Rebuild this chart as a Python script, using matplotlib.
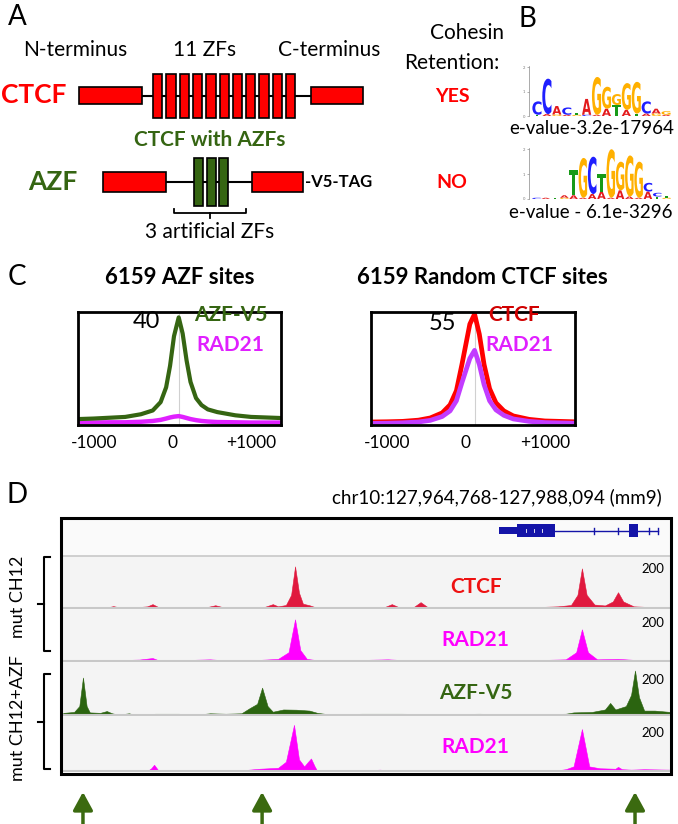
import matplotlib
matplotlib.use('Agg')
import matplotlib.pyplot as plt
from matplotlib.patches import Rectangle, PathPatch
from matplotlib.textpath import TextPath
from matplotlib.font_manager import FontProperties
from matplotlib.transforms import Affine2D

plt.rcParams['font.family'] = ['Lato', 'DejaVu Sans']

W, H = 678, 824
RED = '#ff0000'
GREEN = '#356512'
MAGENTA = '#ff00ff'
PURPLE = '#c23cff'
CRIMSON = '#e0193e'

# ---------------- data ----------------
# panel A: protein schematics (layout units = pixels of the panel)
ctcf_blocks = [(79, 142), (311, 363)]
ctcf_n_zf = 11
azf_blocks = [(103, 166), (252, 303)]
azf_n_zf = 3

# panel B: motif logos, one list of (letter, bits) per position, bottom to top
logo1 = [[('T', 0.05), ('C', 0.55)], [('A', 0.08), ('C', 1.45)], [('G', 0.06), ('A', 0.35)],
         [('A', 0.05), ('C', 0.3)], [('G', 0.05), ('T', 0.08)], [('C', 0.05), ('A', 0.65)],
         [('A', 0.05), ('G', 1.55)], [('A', 0.3), ('G', 0.9)], [('T', 0.45), ('G', 0.45)],
         [('A', 0.25), ('G', 1.1)], [('T', 0.1), ('G', 1.3)], [('A', 0.1), ('C', 0.5)],
         [('G', 0.1), ('A', 0.2)], [('A', 0.05), ('G', 0.15)]]
logo2 = [[('C', 0.05)], [('A', 0.05)], [('T', 0.06)], [('G', 0.05), ('A', 0.1)],
         [('A', 0.15), ('T', 1.0)], [('A', 0.05), ('G', 1.6)], [('A', 0.2), ('C', 1.5)],
         [('A', 0.3), ('T', 0.7)], [('A', 0.05), ('G', 1.95)], [('A', 0.35), ('G', 1.15)],
         [('A', 0.1), ('G', 1.65)], [('A', 0.05), ('G', 1.45)], [('A', 0.3), ('C', 0.35)],
         [('T', 0.1), ('C', 0.15)], [('G', 0.05), ('T', 0.08)]]
logo_colors = {'A': '#e31a1c', 'C': '#1f1fff', 'G': '#ffb000', 'T': '#189a18'}

# panel C: aggregate profiles (bp from site, signal)
azf_pos = [-1200, -1000, -800, -600, -400, -250, -150, -80, -30, 20, 80, 130, 180, 230, 300, 370, 450, 570, 800, 1000, 1370]
azf_v5 = [2.2, 2.4, 2.7, 3.0, 4.0, 5.4, 8.5, 14, 22, 33, 40, 34, 24, 16, 10, 7.4, 5.8, 4.8, 3.6, 3.0, 2.6]
azf_rad21 = [0.9, 0.9, 1.0, 1.0, 1.2, 1.5, 1.9, 2.4, 2.8, 3.1, 3.3, 3.0, 2.6, 2.2, 1.8, 1.5, 1.3, 1.1, 1.0, 0.9, 0.9]
ctcf_pos = [-1200, -1000, -800, -600, -450, -300, -200, -120, -50, 0, 50, 110, 170, 230, 300, 380, 480, 600, 800, 1000, 1370]
ctcf_rand = [1.5, 1.6, 1.8, 2.4, 3.5, 6, 10, 17, 30, 40, 50, 55, 45, 30, 18, 11, 7, 4.5, 2.8, 2.0, 1.6]
ctcf_rad21 = [0.8, 0.9, 1.1, 1.5, 2.3, 4.2, 7, 12, 21, 27, 33, 37, 30, 20, 12, 7.5, 4.8, 3.0, 1.8, 1.2, 0.9]

# panel D: browser tracks, kb from chr10:127,964,768
region_kb = 23.326
trk_ctcf = [(0, 0), (0.3, 4), (1.2, 5), (1.8, 4), (2.0, 9), (2.2, 4), (3.0, 5), (3.3, 8), (3.5, 18),
            (3.7, 6), (4.5, 4), (5.6, 5), (5.9, 13), (6.2, 4), (7.0, 4), (7.8, 6), (8.1, 18), (8.3, 8),
            (8.6, 14), (8.8, 60), (8.95, 189), (9.1, 70), (9.25, 20), (9.5, 13), (9.7, 5), (10.5, 4),
            (11.5, 4), (12.4, 6), (12.65, 18), (12.9, 5), (13.5, 6), (13.75, 27), (14.0, 6), (15.0, 4),
            (16.5, 4), (18.0, 4), (19.0, 8), (19.5, 14), (19.75, 60), (19.92, 180), (20.1, 60),
            (20.4, 16), (20.8, 12), (21.1, 30), (21.3, 72), (21.5, 30), (21.9, 8), (22.5, 5), (23.3, 3)]
trk_rad21_mut = [(0, 0), (0.3, 4), (1.0, 6), (1.5, 4), (2.4, 5), (3.0, 7), (3.5, 14), (3.7, 5), (4.5, 4),
                 (5.7, 8), (6.2, 4), (7.5, 5), (8.3, 10), (8.7, 40), (8.95, 189), (9.15, 50), (9.4, 10),
                 (9.8, 4), (11.0, 4), (12.5, 8), (13.0, 5), (14.5, 4), (16.0, 4), (18.0, 4), (19.3, 8),
                 (19.7, 40), (19.92, 144), (20.15, 40), (20.5, 8), (21.3, 10), (22.0, 5), (23.3, 4)]
trk_azf = [(0, 0), (0.1, 10), (0.5, 14), (0.7, 40), (0.84, 167), (0.98, 40), (1.1, 12), (1.5, 10),
           (1.75, 18), (1.95, 8), (2.2, 2), (2.6, 8), (2.8, 2), (3.6, 6), (4.5, 6), (5.2, 2), (5.7, 8),
           (6.3, 6), (6.9, 8), (7.2, 30), (7.5, 50), (7.69, 122), (7.9, 40), (8.1, 15), (8.5, 25),
           (9.0, 24), (9.5, 20), (9.8, 10), (10.2, 4), (11.5, 6), (13.0, 6), (14.5, 5), (16.0, 6),
           (17.5, 4), (19.3, 6), (19.6, 12), (20.3, 14), (20.8, 25), (21.0, 54), (21.2, 25), (21.6, 40),
           (21.8, 90), (21.95, 198), (22.1, 80), (22.3, 20), (22.7, 20), (23.3, 14)]
trk_rad21_azf = [(0, 0), (0.8, 0), (0.9, 4), (1.0, 0), (2.6, 0), (2.7, 4), (2.8, 0), (3.3, 0), (3.45, 12),
                 (3.56, 27), (3.7, 6), (3.8, 0), (5.8, 0), (5.9, 3), (6.0, 0), (6.9, 0), (7.1, 5), (7.6, 10),
                 (8.3, 14), (8.6, 40), (8.91, 198), (9.1, 50), (9.3, 20), (9.45, 40), (9.56, 54), (9.7, 20),
                 (9.8, 0), (10.7, 0), (10.8, 4), (11.0, 0), (11.6, 3), (12.2, 6), (12.5, 3), (13.5, 0),
                 (13.6, 4), (13.8, 0), (14.8, 0), (14.9, 4), (15.1, 0), (18.8, 0), (19.3, 8), (19.6, 20),
                 (19.92, 180), (20.2, 20), (20.6, 12), (21.2, 10), (21.3, 18), (21.45, 8), (21.8, 6),
                 (22.3, 8), (23.3, 6)]
track_names = ['CTCF', 'RAD21', 'AZF-V5', 'RAD21']
track_colors = [CRIMSON, MAGENTA, '#2b6410', MAGENTA]
label_colors = ['#ee1111', MAGENTA, GREEN, MAGENTA]
tracks = [trk_ctcf, trk_rad21_mut, trk_azf, trk_rad21_azf]
arrow_sites = [0.84, 7.69, 21.95]

# gene model (kb)
gene_utr = (16.75, 17.44)
gene_cds = [(17.44, 18.89), (21.72, 22.06)]
gene_introns = [(18.89, 21.72), (22.06, 22.83)]
gene_ticks = [20.38, 21.30, 22.49, 22.83]

# ---------------- figure ----------------
fig = plt.figure(figsize=(W / 100, H / 100), dpi=100)


def px_axes(x0, y0, x1, y1):
    return fig.add_axes([x0 / W, 1 - y1 / H, (x1 - x0) / W, (y1 - y0) / H])


ov = fig.add_axes([0, 0, 1, 1])
ov.set_xlim(0, W)
ov.set_ylim(H, 0)
ov.axis('off')
ov.set_zorder(10)

# panel letters
for lab, x, y in [('A', 17, 17), ('B', 527, 19), ('C', 17, 277), ('D', 17, 495)]:
    ov.text(x, y, lab, fontsize=20, ha='center', va='center')

# ---- panel A ----
ov.text(75, 50, 'N-terminus', fontsize=15, ha='center', va='center')
ov.text(205, 50, '11 ZFs', fontsize=15, ha='center', va='center')
ov.text(329, 50, 'C-terminus', fontsize=15, ha='center', va='center')
ov.text(467, 33, 'Cohesin', fontsize=15, ha='center', va='center')
ov.text(452, 63, 'Retention:', fontsize=15, ha='center', va='center')
ov.text(34, 95, 'CTCF', fontsize=19, color=RED, weight='bold', ha='center', va='center')
ov.text(53, 182, 'AZF', fontsize=19, color=GREEN, weight='bold', ha='center', va='center')
ov.text(210, 140, 'CTCF with AZFs', fontsize=15, color=GREEN, weight='bold', ha='center', va='center')
ov.text(452, 96, 'YES', fontsize=14, color=RED, weight='bold', ha='center', va='center')
ov.text(452, 182, 'NO', fontsize=14, color=RED, weight='bold', ha='center', va='center')
ov.text(305, 182, '-V5-TAG', fontsize=12, weight='bold', ha='left', va='center')
ov.text(210, 232, '3 artificial ZFs', fontsize=15, ha='center', va='center')

# CTCF construct
ov.plot([ctcf_blocks[0][1], ctcf_blocks[1][0]], [96, 96], color='black', lw=1.5, zorder=1)
for x0, x1 in ctcf_blocks:
    ov.add_patch(Rectangle((x0, 87), x1 - x0, 17, fc=RED, ec='black', lw=1.2, zorder=2))
for i in range(ctcf_n_zf):
    ov.add_patch(Rectangle((153 + i * 13.3, 74), 9.3, 44, fc=RED, ec='black', lw=1.2, zorder=2))
# AZF construct
ov.plot([azf_blocks[0][1], azf_blocks[1][0]], [182, 182], color='black', lw=1.5, zorder=1)
for x0, x1 in azf_blocks:
    ov.add_patch(Rectangle((x0, 172), x1 - x0, 20, fc=RED, ec='black', lw=1.2, zorder=2))
for i in range(azf_n_zf):
    ov.add_patch(Rectangle((194 + i * 12.6, 158), 9, 48, fc=GREEN, ec='black', lw=1.2, zorder=2))
ov.plot([174, 174, 246, 246], [209, 213, 213, 209], color='black', lw=1.3)
ov.plot([210, 210], [213, 218], color='black', lw=1.3)

# ---- panel B: logos ----
letter_font = FontProperties(family='DejaVu Sans', weight='bold')


def draw_logo(ax, columns):
    for i, col in enumerate(columns):
        y = 0.0
        for ch, h in col:
            tp = TextPath((0, 0), ch, size=1, prop=letter_font)
            bb = tp.get_extents()
            tr = Affine2D().translate(-bb.x0, -bb.y0).scale(0.92 / bb.width, h / bb.height).translate(i - 0.46, y)
            ax.add_patch(PathPatch(tr.transform_path(tp), fc=logo_colors[ch], ec='none'))
            y += h
    ax.set_xlim(-0.8, len(columns) - 0.3)
    ax.set_ylim(0, 2.05)
    for s in ['top', 'right', 'bottom']:
        ax.spines[s].set_visible(False)
    ax.spines['left'].set_linewidth(0.5)
    ax.spines['left'].set_color('#888888')
    ax.set_xticks([])
    ax.set_yticks([0, 1, 2])
    ax.tick_params(axis='y', labelsize=3, length=1.5, width=0.4, colors='#777777', pad=1)


lg1 = px_axes(529, 66, 673, 116)
draw_logo(lg1, logo1)
lg2 = px_axes(529, 148, 673, 199)
draw_logo(lg2, logo2)
ov.text(592, 128, 'e-value-3.2e-17964', fontsize=13.5, ha='center', va='center')
ov.text(591, 212, 'e-value - 6.1e-3296', fontsize=13.5, ha='center', va='center')

# ---- panel C ----
ov.text(180, 277, '6159 AZF sites', fontsize=16, weight='bold', ha='center', va='center')
ov.text(482, 277, '6159 Random CTCF sites', fontsize=16, weight='bold', ha='center', va='center')


def profile_axes(ax, ymax, peak):
    ax.set_xlim(-1200, 1380)
    ax.set_ylim(0, ymax)
    ax.axvline(peak, color='#d0d0d0', lw=0.8, zorder=0)
    ax.set_xticks([-1000, 0, 1000])
    ax.set_xticklabels(['-1000', '0', '+1000'], fontsize=12.5)
    ax.tick_params(axis='x', length=0, pad=7)
    ax.set_yticks([])
    for s in ax.spines.values():
        s.set_linewidth(2)


c1 = px_axes(78, 312, 281, 425)
profile_axes(c1, 42, 80)
c1.plot(azf_pos, azf_rad21, color='#e020ff', lw=3.2, solid_capstyle='round')
c1.plot(azf_pos, azf_v5, color=GREEN, lw=3.0, solid_capstyle='round')
c1.text(-330, 38.3, '40', fontsize=17, ha='center', va='center')
c1.text(740, 40.9, 'AZF-V5', fontsize=15, weight='bold', color=GREEN, ha='center', va='center')
c1.text(740, 29.7, 'RAD21', fontsize=15, weight='bold', color='#e020ff', ha='center', va='center')

c2 = px_axes(371, 312, 575, 425)
profile_axes(c2, 56, 110)
c2.plot(ctcf_pos, ctcf_rand, color=RED, lw=3.4, solid_capstyle='round')
c2.plot(ctcf_pos, ctcf_rad21, color=PURPLE, lw=3.4, solid_capstyle='round')
c2.text(-300, 50.5, '55', fontsize=17, ha='center', va='center')
c2.text(610, 54.3, 'CTCF', fontsize=15, weight='bold', color='#d00000', ha='center', va='center')
c2.text(670, 39.6, 'RAD21', fontsize=15, weight='bold', color='#e020ff', ha='center', va='center')

# ---- panel D ----
ov.text(662, 497, 'chr10:127,964,768-127,988,094 (mm9)', fontsize=13.5, ha='right', va='center')
ov.add_patch(Rectangle((61, 518), 610, 256, fc='none', ec='black', lw=2.2, zorder=5))

gene_ax = px_axes(61, 518, 671, 556)
gene_ax.set_xlim(0, region_kb)
gene_ax.set_ylim(0, 1)
gene_ax.axis('off')
gene_ax.add_patch(Rectangle((0, 0), region_kb, 1, fc='#fafafa', ec='none'))
GB = '#1414a8'
for x0, x1 in gene_introns:
    gene_ax.plot([x0, x1], [0.66, 0.66], color=GB, lw=1)
gene_ax.add_patch(Rectangle((gene_utr[0], 0.58), gene_utr[1] - gene_utr[0], 0.18, fc=GB, ec='none'))
for x0, x1 in gene_cds:
    gene_ax.add_patch(Rectangle((x0, 0.5), x1 - x0, 0.34, fc=GB, ec='none'))
for gx in gene_ticks:
    gene_ax.plot([gx, gx], [0.57, 0.75], color=GB, lw=1)
for gx in [17.8, 18.1, 18.4]:
    gene_ax.plot([gx, gx], [0.62, 0.70], color='white', lw=0.6)

edges = [556, 609, 662, 716, 772]
name_y = [0.42, 0.42, 0.43, 0.45]
num_y = [0.75, 0.73, 0.67, 0.70]
for k, trk in enumerate(tracks):
    ax = px_axes(61, edges[k], 671, edges[k + 1])
    ax.set_facecolor('#f4f4f4')
    xs = [p[0] for p in trk]
    ys = [p[1] for p in trk]
    ax.fill_between(xs, 0, ys, color=track_colors[k], lw=0.4)
    ax.axhline(-1.5, color='#c8c8c8', lw=1.5)
    ax.set_xlim(0, region_kb)
    ax.set_ylim(-4, 236)
    ax.set_xticks([])
    ax.set_yticks([])
    for s in ax.spines.values():
        s.set_visible(False)
    ax.text(0.68, name_y[k], track_names[k], transform=ax.transAxes, fontsize=15,
            weight='bold', color=label_colors[k], ha='center', va='center')
    ax.text(0.970, num_y[k], '200', transform=ax.transAxes, fontsize=9.5, ha='center', va='center')
ov.plot([61, 671], [556, 556], color='#c8c8c8', lw=1.2, zorder=4)

# sample brackets
for top, mid, bot, name, ly in [(557, 604, 651, 'mut CH12', 597), (674, 722, 769, 'mut CH12+AZF', 718)]:
    ov.plot([50, 44, 44, 50], [top, top, bot, bot], color='black', lw=1.5)
    ov.plot([44, 38], [mid, mid], color='black', lw=1.5)
    ov.text(18, ly, name, fontsize=13, rotation=90, ha='center', va='center')

# arrows under the AZF sites
arr = px_axes(61, 776, 671, 824)
arr.set_xlim(0, region_kb)
arr.set_ylim(824, 776)
arr.axis('off')
for kb in arrow_sites:
    arr.annotate('', xy=(kb, 792), xytext=(kb, 830),
                 arrowprops=dict(arrowstyle='-|>,head_length=1.1,head_width=0.6',
                                 color='#3b6a10', lw=2.5, shrinkA=0, shrinkB=0),
                 annotation_clip=False)

fig.savefig('out.png', dpi=100)
